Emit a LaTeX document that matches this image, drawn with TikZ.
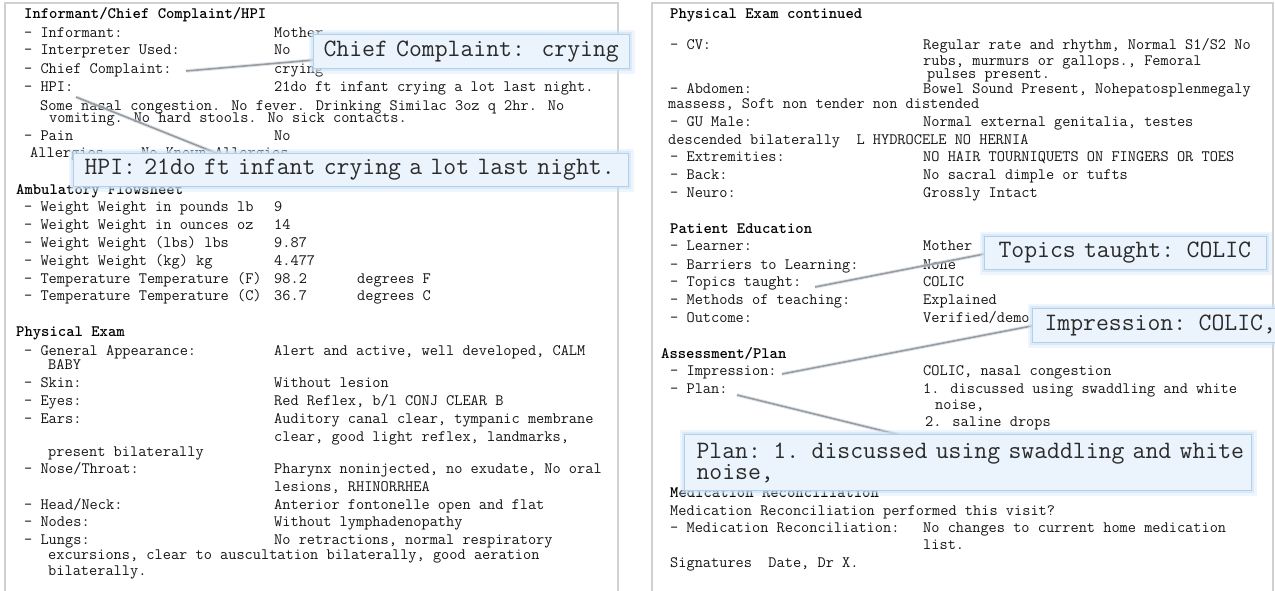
\documentclass[tikz,border=0pt]{standalone}
\usetikzlibrary{calc}
\definecolor{txtc}{HTML}{141414}
\definecolor{ctxt}{HTML}{2A2A2A}
\definecolor{callf}{HTML}{EBF4FC}
\definecolor{callb}{HTML}{B3CFEA}
\definecolor{glowc}{HTML}{CFE2F5}
\definecolor{connc}{HTML}{9C9C9C}
\definecolor{connsh}{HTML}{C8D6E6}
\definecolor{pgb}{HTML}{D0D0D0}
\newcommand\pfont{\ttfamily\fontsize{15.9}{16}\selectfont}
\newcommand\cfont{\ttfamily\fontsize{25}{21}\selectfont}
\pgfdeclarelayer{connl}
\pgfdeclarelayer{calll}
\pgfsetlayers{main,connl,calll}
\tikzset{
  txt/.style={anchor=mid west, inner sep=0pt, font=\pfont, text=txtc},
  hdr/.style={anchor=mid west, inner sep=0pt, font=\pfont\bfseries, text=black},
  pageframe/.style={draw=pgb, line width=1.5pt},
  callout/.style={anchor=north west, draw=callb, line width=1pt, fill=callf,
    inner ysep=0pt, font=\cfont, text=ctxt, align=left,
    preaction={draw=glowc, line width=10pt, opacity=0.35},
    preaction={draw=glowc, line width=5pt, opacity=0.6}},
  conn/.style={draw=connc, line width=1.6pt,
    preaction={draw=connsh, line width=3.6pt, opacity=0.6}},
}
\begin{document}
\begin{tikzpicture}[x=1pt,y=-1pt]
\useasboundingbox (0,0) rectangle (1275,590);
% page frames
\draw[pageframe] (5,595) -- (5,3) -- (618,3) -- (618,595);
\draw[pageframe] (652,595) -- (652,3) -- (1273,3) -- (1273,595);

% ---------- left page ----------
\node[hdr] (L0) at (24,16) {Informant/Chief Complaint/HPI};
\node[txt] (L1k) at (24,35) {- Informant:};        \node[txt] (L1v) at (274,35) {Mother};
\node[txt] (L2k) at (24,52) {- Interpreter Used:}; \node[txt] (L2v) at (274,52) {No};
\node[txt] (L3k) at (24,71) {- Chief Complaint:};  \node[txt] (L3v) at (274,71) {crying};
\node[txt] (L4k) at (24,89) {- HPI:};              \node[txt] (L4v) at (274,89) {21do ft infant crying a lot last night.};
\node[txt] (L5) at (40,108) {Some nasal congestion. No fever. Drinking Similac 3oz q 2hr. No};
\node[txt] (L6) at (49,120) {vomiting. No hard stools. No sick contacts.};
\node[txt] (L7k) at (24,138) {- Pain};               \node[txt] (L7v) at (274,138) {No};
\node[txt] (L8k) at (30,155) {Allergies};            \node[txt] (L8v) at (141,155) {No Known Allergies};

\node[hdr] (A0) at (16,192) {Ambulatory Flowsheet};
\node[txt] (A1k) at (24,209) {- Weight Weight in pounds lb}; \node[txt] (A1v) at (274,209) {9};
\node[txt] (A2k) at (24,227) {- Weight Weight in ounces oz}; \node[txt] (A2v) at (274,227) {14};
\node[txt] (A3k) at (24,245) {- Weight Weight (lbs) lbs};    \node[txt] (A3v) at (274,245) {9.87};
\node[txt] (A4k) at (24,263) {- Weight Weight (kg) kg};      \node[txt] (A4v) at (274,263) {4.477};
\node[txt] (A5k) at (24,281) {- Temperature Temperature (F)}; \node[txt] (A5v) at (274,281) {98.2}; \node[txt] (A5u) at (357,281) {degrees F};
\node[txt] (A6k) at (24,298) {- Temperature Temperature (C)}; \node[txt] (A6v) at (274,298) {36.7}; \node[txt] (A6u) at (357,298) {degrees C};

\node[hdr] (P0) at (16,334) {Physical Exam};
\node[txt] (P1k) at (24,353) {- General Appearance:}; \node[txt] (P1v) at (274,353) {Alert and active, well developed, CALM};
\node[txt] (P1c) at (48,367) {BABY};
\node[txt] (P2k) at (24,385) {- Skin:};        \node[txt] (P2v) at (274,385) {Without lesion};
\node[txt] (P3k) at (24,403) {- Eyes:};        \node[txt] (P3v) at (274,403) {Red Reflex, b/l CONJ CLEAR B};
\node[txt] (P4k) at (24,421) {- Ears:};        \node[txt] (P4v) at (274,421) {Auditory canal clear, tympanic membrane};
\node[txt] (P4c) at (274,439) {clear, good light reflex, landmarks,};
\node[txt] (P4d) at (48,454) {present bilaterally};
\node[txt] (P5k) at (24,471) {- Nose/Throat:}; \node[txt] (P5v) at (274,471) {Pharynx noninjected, no exudate, No oral};
\node[txt] (P5c) at (274,489) {lesions, RHINORRHEA};
\node[txt] (P6k) at (24,507) {- Head/Neck:};   \node[txt] (P6v) at (274,507) {Anterior fontonelle open and flat};
\node[txt] (P7k) at (24,524) {- Nodes:};       \node[txt] (P7v) at (274,524) {Without lymphadenopathy};
\node[txt] (P8k) at (24,542) {- Lungs:};       \node[txt] (P8v) at (274,542) {No retractions, normal respiratory};
\node[txt] (P8c) at (48,557) {excursions, clear to auscultation bilaterally, good aeration};
\node[txt] (P8d) at (48,573) {bilaterally.};

% ---------- right page ----------
\node[hdr] (R0) at (670,16) {Physical Exam continued};
\node[txt] (R1k) at (670,47) {- CV:};          \node[txt] (R1v) at (923,47) {Regular rate and rhythm, Normal S1/S2 No};
\node[txt] (R1c) at (923,63) {rubs, murmurs or gallops., Femoral};
\node[txt] (R1d) at (927,76) {pulses present.};
\node[txt] (R2k) at (670,91) {- Abdomen:};     \node[txt] (R2v) at (923,91) {Bowel Sound Present, Nohepatosplenmegaly};
\node[txt] (R2c) at (668,106) {massess, Soft non tender non distended};
\node[txt] (R3k) at (670,124) {- GU Male:};    \node[txt] (R3v) at (923,124) {Normal external genitalia, testes};
\node[txt] (R3c) at (668,142) {descended bilaterally\ \ L HYDROCELE NO HERNIA};
\node[txt] (R4k) at (670,159) {- Extremities:}; \node[txt] (R4v) at (923,159) {NO HAIR TOURNIQUETS ON FINGERS OR TOES};
\node[txt] (R5k) at (670,177) {- Back:};       \node[txt] (R5v) at (923,177) {No sacral dimple or tufts};
\node[txt] (R6k) at (670,195) {- Neuro:};      \node[txt] (R6v) at (923,195) {Grossly Intact};

\node[hdr] (E0) at (670,231) {Patient Education};
\node[txt] (E1k) at (670,248) {- Learner:};              \node[txt] (E1v) at (923,248) {Mother};
\node[txt] (E2k) at (670,267) {- Barriers to Learning:}; \node[txt] (E2v) at (923,267) {None};
\node[txt] (E3k) at (670,284) {- Topics taught:};        \node[txt] (E3v) at (923,284) {COLIC};
\node[txt] (E4k) at (670,302) {- Methods of teaching:};  \node[txt] (E4v) at (923,302) {Explained};
\node[txt] (E5k) at (670,320) {- Outcome:};              \node[txt] (E5v) at (923,320) {Verified/demo};

\node[hdr] (S0) at (661,356) {Assessment/Plan};
\node[txt] (S1k) at (670,373) {- Impression:}; \node[txt] (S1v) at (923,373) {COLIC, nasal congestion};
\node[txt] (S2k) at (670,391) {- Plan:};       \node[txt] (S2v) at (923,391) {1. discussed using swaddling and white};
\node[txt] (S2c) at (935,407) {noise,};
\node[txt] (S2d) at (925,424) {2. saline drops};

\node[hdr] (M0) at (670,495) {Medication Reconciliation};
\node[txt] (M1) at (670,513) {Medication Reconciliation performed this visit?};
\node[txt] (M2k) at (670,530) {- Medication Reconciliation:}; \node[txt] (M2v) at (923,530) {No changes to current home medication};
\node[txt] (M2c) at (923,547) {list.};
\node[txt] (M3) at (670,565) {Signatures\ \ Date, Dr X.};

% ---------- callouts ----------
\begin{pgfonlayer}{calll}
\node[callout, inner xsep=10pt, text width=296pt, minimum height=34pt] (ccbox) at (313,34) {\mbox{Chief Complaint:\ \ crying}};
\node[callout, inner xsep=11pt, text width=533pt, minimum height=33pt] (hpibox) at (73,153) {\mbox{HPI: 21do ft infant crying a lot last night.}};
\node[callout, inner xsep=14pt, text width=254pt, minimum height=33pt] (topbox) at (984,236) {\mbox{Topics taught: COLIC}};
\node[callout, inner xsep=12pt, text width=245pt, minimum height=34pt] (impbox) at (1032,308) {\mbox{Impression: COLIC,}};
\node[callout, inner xsep=12pt, text width=543pt, minimum height=56pt] (planbox) at (684,434) {\mbox{Plan: 1. discussed using swaddling and white}\\noise,};
\end{pgfonlayer}

% ---------- connectors ----------
\coordinate (c1s) at (186,71);
\coordinate (c2s) at (76,97);
\coordinate (c3s) at (815,287);
\coordinate (c4s) at (782,374);
\coordinate (c5s) at (737,395);
\begin{pgfonlayer}{connl}
\draw[conn] (c1s) -- ([xshift=7pt,yshift=9.5pt]ccbox.south west);
\draw[conn] (c2s) -- ([xshift=153pt,yshift=-4pt]hpibox.north west);
\draw[conn] (c3s) -- ([xshift=8pt,yshift=-16.5pt]topbox.north west);
\draw[conn] (c4s) -- ([xshift=10pt,yshift=-16pt]impbox.north west);
\draw[conn] (c5s) -- ([xshift=220pt,yshift=-2pt]planbox.north west);
\end{pgfonlayer}
\end{tikzpicture}
\end{document}
